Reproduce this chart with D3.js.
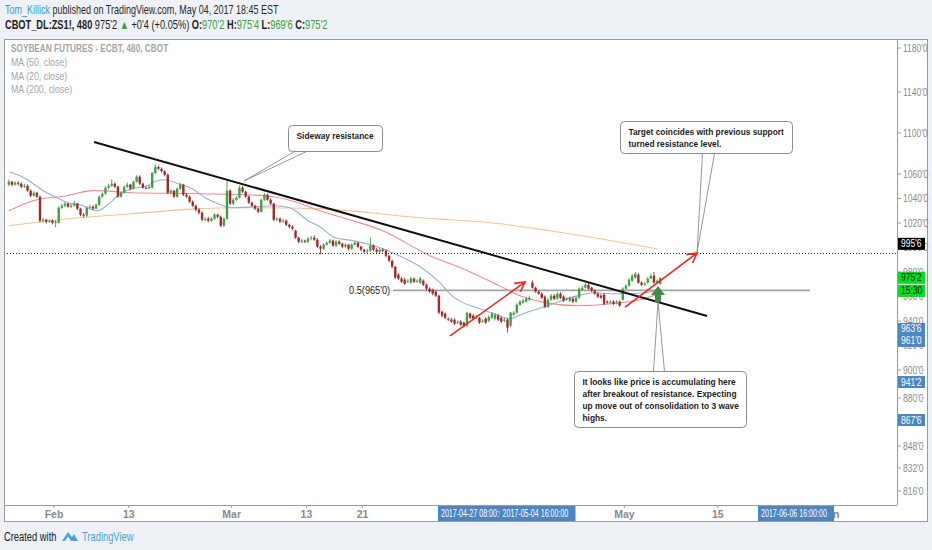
<!DOCTYPE html>
<html>
<head>
<meta charset="utf-8">
<script src="https://cdn.jsdelivr.net/npm/d3@7"></script>
<style>
  body { margin: 0; background: #eef1f5; }
  svg { display: block; font-family: "Liberation Sans", Arial, sans-serif; }
</style>
</head>
<body>
<svg width="932" height="550"></svg>
<script>
// ---- data ----
// 480-minute bars [open, high, low, close], three per trading day
const candles = [
[1051.3,1055.5,1050,1053.7],[1053.7,1054.5,1050,1051.3],[1051.3,1054,1050.5,1052.9],[1052.9,1054,1050.5,1052.1],
[1052.1,1053,1048.5,1049.6],[1049.6,1052,1048.5,1050.4],[1050.4,1051.5,1045.5,1046.4],[1046.4,1047.5,1041,1042.3],
[1042.3,1046,1041.5,1044.7],[1044.7,1045.5,1040.5,1041.5],[1041.5,1042.5,1020.5,1021.9],[1021.9,1024.5,1020.5,1022.7],
[1022.7,1023.5,1019.5,1021.1],[1021.1,1023,1020,1021.9],[1021.9,1023,1019,1020.2],[1020.2,1022.5,1016.5,1021.1],
[1020.2,1033.5,1019.5,1032.5],[1032.5,1035.5,1031.5,1034.1],[1034.1,1037,1033,1035.8],[1035.8,1036.5,1032.5,1033.3],
[1033.3,1035.5,1032,1034.1],[1034.1,1038,1033.5,1035.8],[1035.8,1036.5,1030.5,1031.7],[1031.7,1032.5,1025.5,1026.8],
[1026.8,1028,1024.5,1026.0],[1026.0,1033.5,1025,1032.5],[1032.5,1035,1031.5,1033.3],[1033.3,1034.5,1030.5,1031.7],
[1031.7,1036,1031,1034.9],[1034.9,1042.5,1034,1041.5],[1041.5,1045,1040.5,1043.9],[1043.9,1050,1043,1048.8],
[1048.8,1052,1047.5,1050.4],[1050.4,1055.5,1049.5,1052.1],[1052.1,1053,1048.5,1049.6],[1049.6,1050.5,1040.5,1041.5],
[1041.5,1045.5,1040.5,1044.7],[1044.7,1050.5,1044,1049.6],[1049.6,1053,1048.5,1051.3],[1051.3,1052,1047,1048.0],
[1048.0,1054.5,1047.5,1053.7],[1053.7,1059,1053,1057.8],[1057.8,1059,1051,1052.1],[1052.1,1053,1048,1048.8],
[1048.8,1050,1047.5,1048.4],[1048.4,1051,1047.5,1049.6],[1048.8,1062,1048,1061.0],[1061.0,1069.5,1060,1066.8],
[1066.8,1068.5,1064,1065.1],[1065.1,1066.5,1061.5,1062.7],[1062.7,1063.5,1058,1059.4],[1059.4,1060.5,1043.5,1044.7],
[1044.7,1047.5,1043.5,1046.4],[1046.4,1047,1040.5,1041.5],[1041.5,1049,1040.5,1048.0],[1048.0,1053,1047,1051.3],
[1051.3,1052,1042,1043.1],[1043.1,1044.5,1040.5,1041.5],[1041.5,1042.5,1036.5,1037.4],[1037.4,1038.5,1033,1034.1],
[1034.1,1035,1029.5,1030.9],[1030.9,1032,1027,1028.4],[1028.4,1029.5,1021.5,1022.7],[1022.7,1025,1021.5,1023.5],
[1023.5,1025,1020.5,1021.9],[1021.9,1025,1021,1023.5],[1023.5,1028,1022.5,1026.8],[1026.8,1027.5,1024,1025.1],
[1025.1,1026,1016.5,1017.8],[1017.8,1024.5,1016.5,1023.5],[1023.5,1054.5,1022.5,1046.4],[1046.4,1047.5,1034.5,1035.8],
[1035.8,1040.5,1034.5,1039.0],[1039.0,1042,1038,1040.6],[1040.6,1050.5,1040,1048.8],[1048.8,1050,1044.5,1045.6],
[1045.6,1046.5,1040.5,1041.5],[1041.5,1042.5,1035.5,1036.6],[1036.6,1037.5,1033,1034.1],[1034.1,1035,1030.5,1031.7],
[1031.7,1032.5,1028,1029.2],[1029.2,1040,1028.5,1039.0],[1039.0,1044.5,1038,1043.1],[1043.1,1044,1038,1039.0],
[1039.0,1040,1034.5,1035.8],[1035.8,1036.5,1021.5,1022.7],[1022.7,1025,1021.5,1023.5],[1023.5,1024.5,1020,1021.1],
[1021.1,1023.5,1020,1021.9],[1021.9,1023,1017.5,1018.6],[1018.6,1019.5,1015.5,1017.0],[1017.0,1018,1014,1015.4],
[1013.7,1014.5,1007,1008.0],[1008.0,1009,1003.5,1004.7],[1004.7,1007,1003.5,1005.6],[1005.6,1006.5,1003.5,1004.7],
[1004.7,1008.5,1003.5,1007.2],[1007.2,1009.5,1006,1008.0],[1008.0,1010,1005.5,1006.4],[1006.4,1007.5,999.5,1000.7],
[1000.7,1002,994.5,999.0],[999.0,1003.5,998,1002.3],[1002.3,1005,1001.5,1003.9],[1003.9,1007,1003,1005.6],
[1005.6,1006.5,1000.5,1001.5],[1001.5,1006,1000.5,1004.7],[1004.7,1006,1002,1003.1],[1003.1,1004,999.5,1000.7],
[1000.7,1003.5,999.5,1002.3],[1002.3,1003,997.5,999.0],[999.0,1003.5,998,1002.3],[1002.3,1005,1001.5,1003.9],
[1003.9,1004.5,999.5,1000.7],[1000.7,1001.5,997,998.2],[998.2,999,995.5,996.6],[996.6,999,995.5,997.4],
[997.4,1008,996.5,1001.5],[1001.5,1002.5,997,998.2],[998.2,999.5,995.5,996.6],[996.6,999.5,995.5,998.2],
[998.2,999.5,996,997.4],[997.4,998.5,992,993.3],[993.3,994,988,989.2],[989.2,990,983,984.3],
[984.3,985,974.5,975.4],[977.8,979,973.5,974.6],[974.6,976,971,972.1],[973.8,975,969.5,970.5],
[972.1,974,971,972.9],[971.3,976,970.5,974.6],[974.6,975.5,971,972.1],[972.1,974,971,972.9],
[971.3,976,970.5,974.6],[972.9,974,968.5,969.6],[969.6,970.5,965,966.4],[966.4,967.5,963,964.0],
[965.6,966.5,961,962.3],[964.0,965,959.5,960.7],[960.7,961.5,945.5,946.8],[947.6,948.5,943,944.4],
[946.0,947,941.5,942.7],[941.9,943,940,941.1],[941.1,942.5,938.5,939.5],[941.1,942,936.5,937.8],
[938.7,940.5,937.5,939.5],[939.5,940.5,936,937.0],[938.7,939.5,934.5,936.2],[936.2,947.5,935,946.8],
[946.0,947,941.5,942.7],[944.4,945.5,940.5,941.9],[942.7,945,941.5,943.5],[942.7,943.5,937.5,938.7],
[939.5,941.5,938.5,940.3],[941.9,943,937.5,938.7],[940.3,944.5,939,943.5],[942.7,947.5,941.5,946.0],
[941.9,946.5,940.5,945.2],[944.4,945.5,940,941.1],[942.7,943.5,938.5,939.5],[940.3,942.5,939,941.1],
[941.1,942,930.5,934.6],[936.2,947.5,935,946.8],[945.2,948,944,946.8],[946.8,954.5,946,953.3],
[953.3,957,952.5,955.8],[955.0,958,954,956.6],[955.8,959.5,955,958.2],[957.4,960.5,956.5,959.0],
[971.3,973,966.5,967.2],[967.2,968,963,964.0],[964.0,965,961.5,962.3],[962.3,963.5,958,959.0],
[959.9,961,950.5,951.7],[951.7,958.5,950.5,957.4],[957.4,962,956.5,960.7],[960.7,962,957,958.2],
[958.2,963.5,957.5,962.3],[962.3,963.5,958,959.0],[959.9,961,955.5,956.6],[957.4,959.5,956.5,958.2],
[956.6,960,955.5,959.0],[958.2,959.5,954.5,955.8],[955.8,960.5,955,959.0],[959.0,967.5,958,966.4],
[965.6,968.5,964.5,967.2],[967.2,971,966.5,969.6],[969.6,971,965.5,966.4],[967.2,968,963.5,964.8],
[964.8,966,961.5,962.3],[962.3,963.5,958.5,959.9],[960.7,962,958,959.0],[961.5,962.5,953,954.1],
[955.8,957,954,955.0],[955.0,957,954,955.8],[955.8,957,953,954.1],[955.0,957,953.5,955.8],
[955.8,957,951.5,952.5],[957.4,967.5,956.5,966.4],[966.4,970,965.5,968.8],[968.8,975,968,973.8],
[972.9,978.5,972,977.0],[975.4,980,974.5,978.6],[977.8,979,970.5,971.3],[971.3,972.5,968.5,969.6],
[969.6,972,968.5,970.5],[971.3,976,970.5,974.6],[974.6,978.5,974,977.0],[977.0,980,970.5,971.3],
[971.3,974,970.5,972.9],[970.25,975.5,969.75,975.25]
];

// moving averages, sampled as [bar index, value]
const ma20 = [[0,1061.9],[3.6,1058.6],[7.8,1052.1],[11,1046.4],[15.5,1040.6],[18.7,1036.6],[22.8,1034.9],[28.3,1030.0],
  [32.5,1036.6],[35.7,1043.9],[39.8,1048.0],[44.3,1050.4],[47.5,1054.5],[50.1,1055.3],[54.3,1052.1],[58.8,1048.0],
  [63,1040.6],[67.1,1035.8],[71.6,1032.5],[79,1033.3],[85.4,1034.1],[90.2,1032.5],[92.8,1028.4],[96,1021.9],
  [99.8,1017.0],[104.7,1008.0],[110.4,1005.6],[119.1,999.8],[124.5,994.1],[132.9,982.7],[138.3,971.3],[142.5,959.9],
  [145.7,955.0],[150.2,950.9],[156.6,945.2],[160.8,941.9],[165,946.0],[172,951.7],[182.6,960.7],[188,963.1],
  [193.5,962.3],[198.6,962.3],[204.1,963.1],[208.9,965.6]];
const ma50 = [[0,1030.0],[7.8,1038.2],[18.7,1042.3],[27,1046.4],[39.8,1044.7],[61.3,1043.9],[82.2,1042.3],[92.8,1036.6],
  [99.8,1030.0],[110.4,1021.9],[120,1013.7],[135.1,993.3],[145.7,982.7],[156.6,969.7],[164,960.7],[172,955.0],
  [182.6,952.5],[193.5,954.1],[202.5,957.4],[209.6,963.1]];
const ma200 = [[0,1017.8],[18.7,1023.5],[39.8,1027.6],[61.3,1031.7],[71,1032.5],[99.8,1031.7],[115.9,1028.4],
  [131.9,1024.3],[141.5,1022.7],[157.6,1019.4],[173.6,1013.7],[189.7,1007.2],[208,999.0]];

// price axis ticks and time axis labels (trading-day numbers, day 0 = 2017-01-23)
const priceTicks = [816, 832, 848, 880, 900, 920, 940, 960, 980, 1000, 1020, 1040, 1060, 1100, 1140, 1180];
const dateTicks = [["Feb",7],["13",15],["Mar",26],["13",34],["21",40],["Apr",49],["10",54],["18",59],["May",68],["15",78],["Jun",90]];

// drawings, in [trading day, price]
const trendLine = [[11.28,1091.2],[76.85,944.1]];
const redArrows = [[[49.36,927.8],[57.38,971.8]], [[68.08,951.4],[75.78,995.5]]];
const fibLevel = {label: "0.5(965'0)", price: 965, from: 43.26, to: 87.86};
const lastLine = 995.75;
const greenArrowTip = [71.6, 968.6];

const callouts = [
  {tip:[27.32,1054.3], dx:44, dy:-56, w:94, h:26, base:[6,18], side:"bottom",
   lines:["Sideway resistance"]},
  {tip:[75.78,996.3], dx:-77, dy:-131, w:172, h:32, base:[82,94], side:"bottom",
   lines:["Target coincides with previous support","turned resistance level."]},
  {tip:[71.6,955.5], dx:-84, dy:69, w:172, h:56, base:[79,90], side:"top",
   lines:["It looks like price is accumulating here","after breakout of resistance. Expecting","up move out of consolidation to 3 wave","highs."]}
];

const priceBadges = [
  {t:"995'6", at:1003, bg:"#000", fg:"#fff"},
  {t:"975'2", at:975.25, bg:"#00e21c", fg:"#111"},
  {t:"15:30", at:964.5, bg:"#00e21c", fg:"#111"},
  {t:"963'6", at:933.5, bg:"#4b87c5", fg:"#fff"},
  {t:"961'0", at:923.7, bg:"#4b87c5", fg:"#fff"},
  {t:"941'2", at:891.4, bg:"#4b87c5", fg:"#fff"},
  {t:"867'6", at:865.3, bg:"#4b87c5", fg:"#fff"}
];
const timeBadges = [
  {t:"2017-04-27 08:00:00", day:52.13},
  {t:"2017-05-04 16:00:00", day:58.71},
  {t:"2017-06-06 16:00:00", day:86.36}
];

// ---- layout ----
const svg = d3.select("svg");
const plot = {left: 4, right: 897, top: 39, bottom: 505, outerRight: 927, outerBottom: 521};

const x = d3.scaleLinear().domain([1.65, 97.16]).range([plot.left, plot.right]);
// the price axis of the original is not evenly spaced
const y = d3.scaleLinear()
  .domain([816, 832, 848, 880, 900, 1060, 1100, 1140, 1180])
  .range([491, 468, 446, 398, 370, 174, 133, 92, 48]);

const barDay = i => 2.167 + i / 3;
const fmt = p => Math.floor(p) + "'" + Math.round((p % 1) * 8);

// the original uses a narrow face; squeeze the available sans horizontally
function narrow(sel, k) {
  sel.each(function () {
    const t = d3.select(this);
    const x0 = +t.attr("x"), y0 = +t.attr("y");
    t.attr("x", 0).attr("y", 0).attr("transform", `translate(${x0},${y0}) scale(${k},1)`);
  });
  return sel;
}

// frame
svg.append("rect")
  .attr("x", plot.left + 0.5).attr("y", plot.top + 0.5)
  .attr("width", plot.outerRight - plot.left).attr("height", plot.outerBottom - plot.top)
  .attr("fill", "#fff").attr("stroke", "#9b9b9b");

svg.append("defs").append("clipPath").attr("id", "clip")
  .append("rect").attr("x", plot.left + 1).attr("y", plot.top + 1)
  .attr("width", plot.right - plot.left - 1).attr("height", plot.bottom - plot.top - 1);

const g = svg.append("g").attr("clip-path", "url(#clip)");

// moving averages
const maLine = d3.line().x(d => x(barDay(d[0]))).y(d => y(d[1])).curve(d3.curveMonotoneX);
[[ma200, "#f6c38e"], [ma50, "#ef8a8a"], [ma20, "#94b0df"]].forEach(([data, col]) => {
  g.append("path").attr("d", maLine(data)).attr("fill", "none").attr("stroke", col).attr("stroke-width", 1.1);
});

// last price dotted line
g.append("line")
  .attr("x1", plot.left).attr("x2", plot.right)
  .attr("y1", Math.round(y(lastLine)) + 0.5).attr("y2", Math.round(y(lastLine)) + 0.5)
  .attr("stroke", "#222").attr("stroke-dasharray", "1,2");

// fib level
g.append("line")
  .attr("x1", x(fibLevel.from)).attr("x2", x(fibLevel.to))
  .attr("y1", y(fibLevel.price)).attr("y2", y(fibLevel.price))
  .attr("stroke", "#a3a3a3").attr("stroke-width", 1.6);
narrow(g.append("text")
  .attr("x", x(fibLevel.from) - 44).attr("y", y(fibLevel.price) + 4)
  .attr("font-size", 11.5).attr("fill", "#222")
  .text(fibLevel.label), 0.8);

// candles
const up = "#3fa142", down = "#a3292b";
const bar = g.selectAll("g.bar").data(candles).enter().append("g").attr("class", "bar");
bar.append("line")
  .attr("x1", (d, i) => x(barDay(i))).attr("x2", (d, i) => x(barDay(i)))
  .attr("y1", d => y(d[1])).attr("y2", d => y(d[2]))
  .attr("stroke", d => d[3] >= d[0] ? up : down).attr("stroke-width", 0.9);
bar.append("rect")
  .attr("x", (d, i) => x(barDay(i)) - 1.2).attr("width", 2.4)
  .attr("y", d => y(Math.max(d[0], d[3])))
  .attr("height", d => Math.max(1, Math.abs(y(d[0]) - y(d[3]))))
  .attr("fill", d => d[3] >= d[0] ? up : down);

// trend line
g.append("line")
  .attr("x1", x(trendLine[0][0])).attr("y1", y(trendLine[0][1]))
  .attr("x2", x(trendLine[1][0])).attr("y2", y(trendLine[1][1]))
  .attr("stroke", "#111").attr("stroke-width", 2);

// red arrows
redArrows.forEach(([a, b]) => {
  const x1 = x(a[0]), y1 = y(a[1]), x2 = x(b[0]), y2 = y(b[1]);
  const ang = Math.atan2(y2 - y1, x2 - x1);
  const head = [ang + Math.PI - 0.5, ang + Math.PI + 0.5].map(t => [x2 + 11 * Math.cos(t), y2 + 11 * Math.sin(t)]);
  g.append("path")
    .attr("d", `M${x1},${y1}L${x2},${y2}M${head[0]}L${x2},${y2}L${head[1]}`)
    .attr("fill", "none").attr("stroke", "#f2251f").attr("stroke-width", 1.6);
});

// green up arrow
{
  const tx = x(greenArrowTip[0]), ty = y(greenArrowTip[1]);
  g.append("path")
    .attr("d", `M${tx},${ty}L${tx + 7},${ty + 9}L${tx + 3},${ty + 9}L${tx + 3},${ty + 16}L${tx - 3},${ty + 16}L${tx - 3},${ty + 9}L${tx - 7},${ty + 9}Z`)
    .attr("fill", "#3e8e46");
}

// callouts
callouts.forEach(c => {
  const tx = x(c.tip[0]), ty = y(c.tip[1]);
  const bx = Math.round(tx + c.dx) + 0.5, by = Math.round(ty + c.dy) + 0.5;
  const edge = c.side === "bottom" ? by + c.h : by;
  g.append("path")
    .attr("d", `M${bx + c.base[0]},${edge}L${tx},${ty}L${bx + c.base[1]},${edge}`)
    .attr("fill", "none").attr("stroke", "#8c8c8c").attr("stroke-width", 0.9);
  g.append("rect")
    .attr("x", bx).attr("y", by).attr("width", c.w).attr("height", c.h).attr("rx", 4)
    .attr("fill", "#fff").attr("stroke", "#8c8c8c");
  c.lines.forEach((s, k) => {
    narrow(g.append("text").attr("font-size", 9.5).attr("font-weight", "bold").attr("fill", "#1c1c1c")
      .attr("x", bx + 8).attr("y", by + 13 + k * 12).text(s), 0.88);
  });
});

// price axis
svg.append("line").attr("x1", plot.right + 0.5).attr("x2", plot.right + 0.5)
  .attr("y1", plot.top).attr("y2", plot.bottom).attr("stroke", "#9b9b9b");
const py = svg.append("g").attr("font-size", 10).attr("fill", "#8a8a8a");
priceTicks.forEach(p => {
  py.append("line").attr("x1", plot.right).attr("x2", plot.right + 4)
    .attr("y1", y(p)).attr("y2", y(p)).attr("stroke", "#9b9b9b");
  narrow(py.append("text").attr("x", plot.right + 6).attr("y", y(p) + 3.5).text(fmt(p)), 0.85);
});
priceBadges.forEach(b => {
  const cy = y(b.at);
  svg.append("rect").attr("x", plot.right + 1).attr("y", cy - 6).attr("width", 27).attr("height", 12).attr("fill", b.bg);
  narrow(svg.append("text").attr("x", plot.right + 4).attr("y", cy + 3.5)
    .attr("font-size", 10).attr("fill", b.fg).text(b.t), 0.85);
});

// time axis; a label fully under a date badge is not drawn
svg.append("line").attr("x1", plot.left).attr("x2", plot.right)
  .attr("y1", plot.bottom + 0.5).attr("y2", plot.bottom + 0.5).attr("stroke", "#9b9b9b");
const badgeW = 76;
const covered = d => timeBadges.some(b => Math.abs(x(d) - x(b.day)) < badgeW / 2 - 10);
const tx = svg.append("g").attr("font-size", 10.5).attr("font-weight", "bold").attr("fill", "#8a8a8a");
dateTicks.forEach(([lab, d]) => {
  tx.append("line").attr("x1", x(d)).attr("x2", x(d)).attr("y1", plot.bottom).attr("y2", plot.bottom + 3).attr("stroke", "#9b9b9b");
  if (!covered(d)) {
    tx.append("text").attr("x", x(d)).attr("y", plot.bottom + 13).attr("text-anchor", "middle").text(lab);
  }
});
timeBadges.forEach(b => {
  svg.append("rect").attr("x", x(b.day) - badgeW / 2).attr("y", plot.bottom + 1).attr("width", badgeW).attr("height", 15).attr("fill", "#4b87c5");
  narrow(svg.append("text").attr("x", x(b.day) - badgeW / 2 + 3).attr("y", plot.bottom + 12)
    .attr("font-size", 10).attr("fill", "#fff").text(b.t), 0.71);
});

// legend inside chart
const lg = svg.append("g").attr("font-size", 11).attr("fill", "#a6a6a6");
narrow(lg.append("text").attr("x", 11).attr("y", 52).attr("font-weight", "bold").text("SOYBEAN FUTURES - ECBT, 480, CBOT"), 0.75);
["MA (50, close)", "MA (20, close)", "MA (200, close)"].forEach((s, k) => {
  narrow(lg.append("text").attr("x", 11).attr("y", 66 + k * 13.5).text(s), 0.8);
});

// header
const h1 = svg.append("text").attr("x", 5).attr("y", 14).attr("font-size", 12.5).attr("fill", "#2a2a2a");
h1.append("tspan").attr("fill", "#3c9ad8").text("Tom_Killick");
h1.append("tspan").text(" published on TradingView.com, May 04, 2017 18:45 EST");
narrow(h1, 0.72);
const green = "#38a338";
const h2 = svg.append("text").attr("x", 5).attr("y", 29).attr("font-size", 12.5).attr("fill", "#1e1e1e");
h2.append("tspan").attr("font-weight", "bold").text("CBOT_DL:ZS1!, 480 ");
h2.append("tspan").text(" 975'2 ");
h2.append("tspan").attr("fill", green).text("▲");
h2.append("tspan").text(" +0'4 (+0.05%)  ");
[["O:", "970'2"], ["H:", "975'4"], ["L:", "969'6"], ["C:", "975'2"]].forEach(([k, v]) => {
  h2.append("tspan").attr("font-weight", "bold").text(k);
  h2.append("tspan").attr("fill", green).text(v + " ");
});
narrow(h2, 0.74);

// footer
narrow(svg.append("text").attr("x", 4).attr("y", 541).attr("font-size", 12).attr("fill", "#222").text("Created with"), 0.78);
svg.append("path")
  .attr("d", "M62,541 L68,532 L72,537 L74,534 L78,541 Z M65,541 L68,536.5 L71,541 Z")
  .attr("fill", "#4aa3df").attr("fill-rule", "evenodd");
narrow(svg.append("text").attr("x", 82).attr("y", 541).attr("font-size", 12).attr("fill", "#4aa3df").text("TradingView"), 0.78);
</script>
</body>
</html>
